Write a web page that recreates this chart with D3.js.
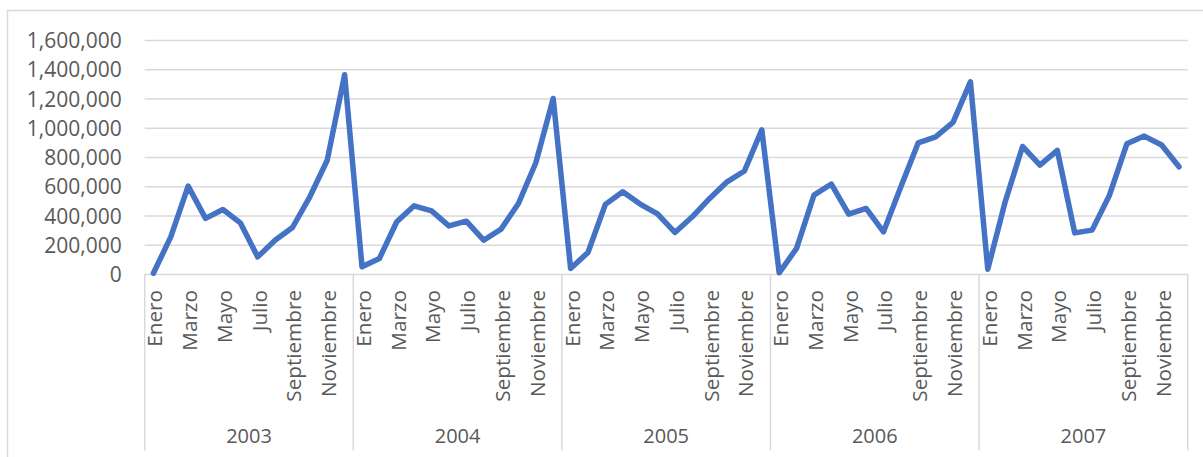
<!DOCTYPE html>
<html lang="es">
<head>
<meta charset="UTF-8">
<title>Ventas mensuales 2003-2007</title>
<script src="https://d3js.org/d3.v7.min.js"></script>
<style>
    body { margin: 0; background: #fff; }
    text { font-family: "Open Sans", "Noto Sans", sans-serif; fill: #595959; }
    .grid line { stroke: #d9d9d9; stroke-width: 1.5px; }
    .grid path { display: none; }
    .sep { stroke: #d9d9d9; stroke-width: 1.5px; }
    .serie { fill: none; stroke: #4472c4; stroke-width: 5.5px; stroke-linejoin: round; stroke-linecap: round; }
</style>
</head>
<body>
<svg id="chart"></svg>
<script>
// meses y años del eje de categorias
var months = ["Enero", "Febrero", "Marzo", "Abril", "Mayo", "Junio", "Julio",
    "Agosto", "Septiembre", "Octubre", "Noviembre", "Diciembre"];
var years = ["2003", "2004", "2005", "2006", "2007"];
var yTicks = [0, 200000, 400000, 600000, 800000, 1000000, 1200000, 1400000, 1600000];

// valores, uno por mes
var v2003 = [5000, 254000, 601000, 380000, 441000, 350000, 117000, 231000, 318000, 528000, 778000, 1362000];
var v2004 = [50000, 106000, 357000, 466000, 432000, 329000, 361000, 231000, 307000, 482000, 761000, 1200000];
var v2005 = [38000, 147000, 476000, 562000, 478000, 411000, 284000, 391000, 517000, 630000, 704000, 985000];
var v2006 = [8000, 175000, 539000, 615000, 409000, 448000, 288000, 596000, 897000, 938000, 1037000, 1314000];
var v2007 = [33000, 494000, 872000, 745000, 845000, 281000, 300000, 539000, 890000, 943000, 882000, 733000];

var values = [v2003, v2004, v2005, v2006, v2007];

var W = 1203, H = 457;
var plotL = 144.7, plotR = 1187.7, plotT = 40, plotB = 274;

var data = [];
years.forEach(function(yr, i) {
    months.forEach(function(m, j) {
        data.push({ key: yr + "-" + j, year: yr, month: m, idx: j, value: values[i][j] });
    });
});

var svg = d3.select("#chart").attr("width", W).attr("height", H);

// borde del area del grafico
svg.append("rect")
    .attr("x", 7.5).attr("y", 10.5)
    .attr("width", W + 10).attr("height", H + 10)
    .attr("fill", "none").attr("stroke", "#d9d9d9").attr("stroke-width", 1.5);

var x = d3.scaleBand().domain(data.map(function(d) { return d.key; })).range([plotL, plotR]);
var xYear = d3.scaleBand().domain(years).range([plotL, plotR]);
var y = d3.scaleLinear().domain([0, 1600000]).range([plotB, plotT]);

// lineas de division + etiquetas del eje Y
var gy = svg.append("g")
    .attr("class", "grid")
    .attr("transform", "translate(" + plotL + ",0)")
    .call(d3.axisLeft(y).tickValues(yTicks).tickSize(-(plotR - plotL)).tickPadding(23)
        .tickFormat(function(d) { return d === 0 ? "0" : d3.format(",")(d); }));
gy.selectAll("text").style("font-size", "21px").attr("dy", "0.36em");

// separadores de años
svg.selectAll(".sep")
    .data(years.concat(["end"]))
    .enter().append("line")
    .attr("class", "sep")
    .attr("x1", function(d) { return d === "end" ? plotR : xYear(d); })
    .attr("x2", function(d) { return d === "end" ? plotR : xYear(d); })
    .attr("y1", plotB).attr("y2", 450.5);

// etiquetas de meses (solo una de cada dos)
svg.selectAll(".mes")
    .data(data.filter(function(d) { return d.idx % 2 === 0; }))
    .enter().append("text")
    .attr("class", "mes")
    .attr("transform", function(d) {
        return "translate(" + (x(d.key) + x.bandwidth() / 2 + 1.5) + ",290) rotate(-90)";
    })
    .attr("dy", "0.36em")
    .attr("text-anchor", "end")
    .style("font-size", "20.7px")
    .text(function(d) { return d.month; });

// etiquetas de años
svg.selectAll(".anio")
    .data(years)
    .enter().append("text")
    .attr("class", "anio")
    .attr("x", function(d) { return xYear(d) + xYear.bandwidth() / 2; })
    .attr("y", 443)
    .attr("text-anchor", "middle")
    .style("font-size", "20px")
    .text(function(d) { return d; });

// serie
var line = d3.line()
    .x(function(d) { return x(d.key) + x.bandwidth() / 2; })
    .y(function(d) { return y(d.value); });

svg.append("path")
    .datum(data)
    .attr("class", "serie")
    .attr("d", line);
</script>
</body>
</html>
